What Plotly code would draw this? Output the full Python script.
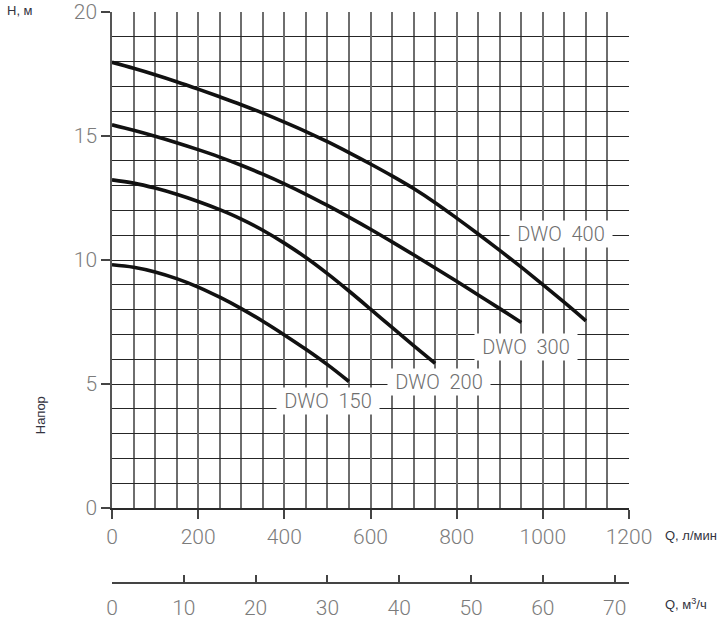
import plotly.graph_objects as go

# ---------------- data ----------------
q_dwo400 = [0, 50, 100, 150, 200, 250, 300, 350, 400, 450, 500, 550, 600, 650, 700, 750, 800, 850, 900, 950, 1000, 1050, 1100]
h_dwo400 = [17.97, 17.73, 17.47, 17.19, 16.89, 16.58, 16.26, 15.92, 15.56, 15.18, 14.77, 14.33, 13.87, 13.39, 12.88, 12.31, 11.69, 11.05, 10.39, 9.71, 9.01, 8.29, 7.55]

q_dwo300 = [0, 50, 100, 150, 200, 250, 300, 350, 400, 450, 500, 550, 600, 650, 700, 750, 800, 850, 900, 950]
h_dwo300 = [15.45, 15.23, 14.99, 14.73, 14.45, 14.15, 13.82, 13.46, 13.07, 12.65, 12.2, 11.73, 11.24, 10.73, 10.21, 9.68, 9.14, 8.59, 8.04, 7.48]

q_dwo200 = [0, 50, 100, 150, 200, 250, 300, 350, 400, 450, 500, 550, 600, 650, 700, 750]
h_dwo200 = [13.23, 13.1, 12.9, 12.65, 12.36, 12.03, 11.65, 11.2, 10.68, 10.1, 9.45, 8.75, 8.02, 7.28, 6.55, 5.83]

q_dwo150 = [0, 50, 100, 150, 200, 250, 300, 350, 400, 450, 500, 550]
h_dwo150 = [9.81, 9.71, 9.52, 9.25, 8.91, 8.5, 8.04, 7.53, 6.98, 6.4, 5.78, 5.1]

series_names = ["DWO  400", "DWO  300", "DWO  200", "DWO  150"]
label_x = [1042, 961, 759, 501]
label_y = [11.03, 6.5, 5.1, 4.33]

x_ticks_lmin = [0, 200, 400, 600, 800, 1000, 1200]
x_ticks_m3h = [0, 10, 20, 30, 40, 50, 60, 70]
y_ticks = [0, 5, 10, 15, 20]

# ---------------- figure ----------------
fig = go.Figure()
curves = [(q_dwo400, h_dwo400), (q_dwo300, h_dwo300), (q_dwo200, h_dwo200), (q_dwo150, h_dwo150)]
for (qq, hh), name in zip(curves, series_names):
    fig.add_trace(go.Scatter(x=qq, y=hh, mode="lines", name=name,
                             line=dict(color="#111111", width=3.6, shape="spline", smoothing=1.0),
                             showlegend=False, hoverinfo="skip"))

# invisible trace to activate the second (m3/h) axis
fig.add_trace(go.Scatter(x=[0, 72], y=[None, None], xaxis="x2", yaxis="y",
                         mode="lines", showlegend=False, hoverinfo="skip"))

tick_font = dict(family="Roboto", size=21, color="#7c7c7c", weight=300)

annotations = []
for name, lx, ly in zip(series_names, label_x, label_y):
    annotations.append(dict(x=lx, y=ly, xref="x", yref="y", text=name, showarrow=False,
                            bgcolor="white", width=102, height=26, borderpad=0,
                            font=dict(family="Roboto", size=20, color="#6e6e6e", weight=300)))

axis_title_font = dict(family="Liberation Sans", size=13, color="#333340")
annotations += [
    dict(x=-0.207, y=1.002, xref="paper", yref="paper", text="H, м", showarrow=False,
         xanchor="left", yanchor="middle", font=axis_title_font),
    dict(x=-0.139, y=0.294, xref="paper", yref="paper", text="Напор", showarrow=False, textangle=-90,
         xanchor="center", yanchor="middle", font=axis_title_font),
    dict(x=1.066, y=0.084, xref="paper", yref="paper", text="Q, л/мин", showarrow=False,
         xanchor="left", yanchor="middle", font=axis_title_font),
    dict(x=1.066, y=-0.037, xref="paper", yref="paper", text="Q, м<sup>3</sup>/ч", showarrow=False,
         xanchor="left", yanchor="middle", font=axis_title_font),
]

shapes = [
    # axis line extensions beyond the grid
    dict(type="line", xref="x", yref="y", x0=1200, x1=1218, y0=0, y1=0,
         line=dict(color="#333333", width=1.5)),
    dict(type="line", xref="x", yref="y", x0=0, x1=0, y0=20, y1=20.37,
         line=dict(color="#555555", width=1.5)),
]

fig.update_layout(
    width=728, height=623,
    margin=dict(l=112, r=99, t=12, b=40, autoexpand=False),
    paper_bgcolor="white", plot_bgcolor="white",
    showlegend=False,
    annotations=annotations,
    shapes=shapes,
    xaxis=dict(range=[0, 1200], domain=[0, 1], anchor="y", automargin=False,
               tickmode="array", tickvals=x_ticks_lmin, ticks="outside", ticklen=9,
               tickcolor="#444444", tickwidth=1.5, tickfont=tick_font, ticklabeloverflow="allow",
               showgrid=True, gridcolor="#6e6e6e", gridwidth=1.6,
               minor=dict(dtick=50, showgrid=True, gridcolor="#6e6e6e", gridwidth=1.6, ticks=""),
               showline=True, linecolor="#2a2a2a", linewidth=1.5, mirror=False,
               zeroline=False, fixedrange=True),
    xaxis2=dict(range=[0, 72], overlaying="x", anchor="free", position=0, side="bottom",
                automargin=False, ticklabeloverflow="allow",
                tickmode="array", tickvals=x_ticks_m3h, ticks="inside", ticklen=7,
                tickcolor="#444444", tickwidth=1.5, tickfont=tick_font,
                showgrid=False, showline=True, linecolor="#444444", linewidth=1.5,
                zeroline=False, ticklabelstandoff=6, fixedrange=True),
    yaxis=dict(range=[0, 20], domain=[75 / 571, 1], anchor="x", automargin=False,
               tickmode="array", tickvals=y_ticks, ticks="outside", ticklen=9,
               tickcolor="#444444", tickwidth=1.5, tickfont=tick_font, ticklabeloverflow="allow",
               showgrid=True, gridcolor="#262626", gridwidth=1.3,
               minor=dict(dtick=1, showgrid=True, gridcolor="#262626", gridwidth=1.3, ticks=""),
               showline=True, linecolor="#555555", linewidth=1.5, mirror=False,
               zeroline=False, fixedrange=True),
)

# remove the default 8px page margin so the 728x623 figure fills the window
fig.write_html("out.html", config={"displayModeBar": False},
               post_script="document.body.style.margin='0';")
